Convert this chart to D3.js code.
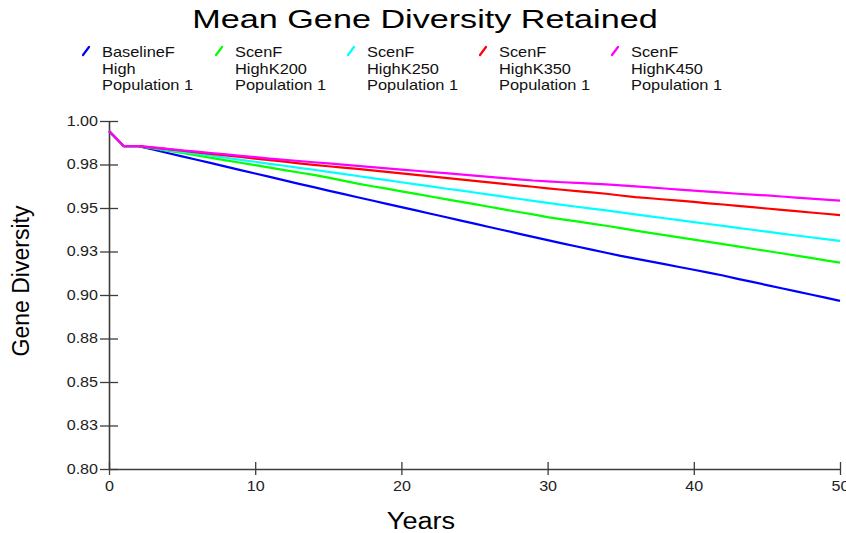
<!DOCTYPE html>
<html>
<head>
<meta charset="utf-8">
<script src="https://cdn.jsdelivr.net/npm/d3@7"></script>
<style>
  html, body { margin: 0; padding: 0; background: #fff; }
  svg { display: block; }
  text { font-family: "Liberation Sans", Arial, sans-serif; }
</style>
</head>
<body>
<svg id="chart" width="846" height="533"></svg>
<script>
// Simulation years 0..50
const years = d3.range(0, 51);

// Mean gene diversity per year for each scenario
const baselineHigh = [
  0.9943, 0.9856, 0.9856, 0.9836, 0.9816, 0.9797, 0.9777, 0.9758, 0.9738, 0.9718,
  0.9698, 0.9679, 0.9659, 0.9639, 0.9620, 0.9600, 0.9581, 0.9562, 0.9543, 0.9524,
  0.9505, 0.9486, 0.9467, 0.9448, 0.9429, 0.9410, 0.9391, 0.9372, 0.9353, 0.9334,
  0.9315, 0.9297, 0.9279, 0.9261, 0.9243, 0.9225, 0.9209, 0.9193, 0.9177, 0.9161,
  0.9145, 0.9129, 0.9112, 0.9093, 0.9075, 0.9057, 0.9039, 0.9021, 0.9003, 0.8985,
  0.8966
];
const highK200 = [
  0.9943, 0.9856, 0.9856, 0.9843, 0.9830, 0.9816, 0.9802, 0.9788, 0.9774, 0.9760,
  0.9746, 0.9732, 0.9718, 0.9704, 0.9690, 0.9675, 0.9657, 0.9640, 0.9625, 0.9611,
  0.9596, 0.9581, 0.9566, 0.9551, 0.9537, 0.9522, 0.9507, 0.9492, 0.9477, 0.9463,
  0.9448, 0.9435, 0.9423, 0.9410, 0.9398, 0.9384, 0.9370, 0.9357, 0.9344, 0.9331,
  0.9318, 0.9305, 0.9292, 0.9279, 0.9266, 0.9253, 0.9240, 0.9226, 0.9213, 0.9199,
  0.9186
];
const highK250 = [
  0.9943, 0.9856, 0.9856, 0.9845, 0.9834, 0.9823, 0.9812, 0.9801, 0.9789, 0.9777,
  0.9766, 0.9754, 0.9743, 0.9731, 0.9720, 0.9708, 0.9696, 0.9684, 0.9672, 0.9660,
  0.9648, 0.9636, 0.9624, 0.9612, 0.9601, 0.9589, 0.9577, 0.9565, 0.9553, 0.9541,
  0.9529, 0.9518, 0.9507, 0.9496, 0.9486, 0.9475, 0.9463, 0.9452, 0.9441, 0.9430,
  0.9419, 0.9408, 0.9397, 0.9386, 0.9375, 0.9364, 0.9353, 0.9342, 0.9332, 0.9321,
  0.9311
];
const highK350 = [
  0.9943, 0.9856, 0.9856, 0.9847, 0.9838, 0.9829, 0.9820, 0.9811, 0.9802, 0.9793,
  0.9784, 0.9775, 0.9766, 0.9757, 0.9748, 0.9740, 0.9732, 0.9725, 0.9716, 0.9708,
  0.9699, 0.9690, 0.9682, 0.9673, 0.9665, 0.9656, 0.9647, 0.9639, 0.9630, 0.9622,
  0.9613, 0.9605, 0.9597, 0.9590, 0.9582, 0.9572, 0.9563, 0.9556, 0.9549, 0.9542,
  0.9535, 0.9527, 0.9520, 0.9512, 0.9505, 0.9497, 0.9489, 0.9482, 0.9474, 0.9467,
  0.9459
];
const highK450 = [
  0.9943, 0.9856, 0.9856, 0.9848, 0.9840, 0.9832, 0.9824, 0.9816, 0.9808, 0.9800,
  0.9792, 0.9784, 0.9777, 0.9770, 0.9763, 0.9756, 0.9749, 0.9742, 0.9735, 0.9728,
  0.9721, 0.9714, 0.9707, 0.9700, 0.9693, 0.9686, 0.9679, 0.9672, 0.9665, 0.9658,
  0.9653, 0.9648, 0.9644, 0.9640, 0.9636, 0.9630, 0.9624, 0.9618, 0.9612, 0.9606,
  0.9600, 0.9594, 0.9588, 0.9582, 0.9577, 0.9572, 0.9566, 0.9560, 0.9554, 0.9548,
  0.9542
];

const seriesNames = [
  ["BaselineF", "High", "Population 1"],
  ["ScenF", "HighK200", "Population 1"],
  ["ScenF", "HighK250", "Population 1"],
  ["ScenF", "HighK350", "Population 1"],
  ["ScenF", "HighK450", "Population 1"]
];
const seriesValues = [baselineHigh, highK200, highK250, highK350, highK450];
const seriesColors = ["#0000ff", "#00ff00", "#00ffff", "#ff0000", "#ff00ff"];

const yTickValues = [0.80, 0.825, 0.85, 0.875, 0.90, 0.925, 0.95, 0.975, 1.00];
const yTickLabels = ["0.80", "0.83", "0.85", "0.88", "0.90", "0.93", "0.95", "0.98", "1.00"];
const xTickValues = [0, 10, 20, 30, 40, 50];

const svg = d3.select("#chart");
const axisColor = "#3c3c3c";

// Text in this chart is drawn horizontally widened
function widen(sel, factor) {
  sel.each(function () {
    const w = this.getComputedTextLength();
    d3.select(this).attr("textLength", w * factor).attr("lengthAdjust", "spacingAndGlyphs");
  });
}

const x = d3.scaleLinear().domain([0, 50]).range([109, 840]);
const y = d3.scaleLinear().domain([0.80, 1.00]).range([469, 121]);

// Title
svg.append("text")
  .attr("x", 425).attr("y", 28)
  .attr("text-anchor", "middle")
  .attr("font-size", 25.5)
  .attr("fill", "#000")
  .text("Mean Gene Diversity Retained")
  .call(widen, 1.34);

// Legend
const legendX = [102, 235, 367, 499, 631];
const legend = svg.append("g").attr("class", "legend");
seriesNames.forEach((lines, i) => {
  const g = legend.append("g").attr("transform", `translate(${legendX[i]},0)`);
  g.append("line")
    .attr("x1", -19).attr("y1", 55)
    .attr("x2", -13).attr("y2", 47)
    .attr("stroke", seriesColors[i])
    .attr("stroke-width", 2.2)
    .attr("stroke-linecap", "round");
  lines.forEach((t, j) => {
    g.append("text")
      .attr("x", 0).attr("y", 57 + j * 16.6)
      .attr("font-size", 14.5)
      .attr("fill", "#111")
      .text(t)
      .call(widen, 1.13);
  });
});

// Y axis
const yAxis = svg.append("g")
  .attr("transform", `translate(${x(0)},0)`)
  .call(d3.axisLeft(y)
    .tickValues(yTickValues)
    .tickFormat((d, i) => yTickLabels[i])
    .tickSize(9)
    .tickSizeOuter(0)
    .tickPadding(2));
yAxis.select(".domain").attr("stroke", axisColor).attr("stroke-width", 1.6);
yAxis.selectAll(".tick line").attr("x1", -9).attr("x2", 9)
  .attr("stroke", axisColor).attr("stroke-width", 1.3);
yAxis.selectAll(".tick text")
  .attr("font-size", 14).attr("fill", "#222")
  .attr("font-family", "'Liberation Sans', Arial, sans-serif")
  .call(widen, 1.15);

// X axis
const xAxis = svg.append("g")
  .attr("transform", `translate(0,${y(0.80)})`)
  .call(d3.axisBottom(x)
    .tickValues(xTickValues)
    .tickFormat(d3.format("d"))
    .tickSize(6)
    .tickSizeOuter(0)
    .tickPadding(6));
xAxis.select(".domain").attr("stroke", axisColor).attr("stroke-width", 1.6);
xAxis.selectAll(".tick line").attr("y1", -7).attr("y2", 6)
  .attr("stroke", axisColor).attr("stroke-width", 1.3);
xAxis.selectAll(".tick text")
  .attr("font-size", 14).attr("fill", "#222")
  .attr("font-family", "'Liberation Sans', Arial, sans-serif")
  .call(widen, 1.15);

// Axis titles
svg.append("text")
  .attr("x", 421).attr("y", 529)
  .attr("text-anchor", "middle")
  .attr("font-size", 23)
  .attr("fill", "#000")
  .text("Years")
  .call(widen, 1.18);

svg.append("text")
  .attr("transform", "translate(29,281) rotate(-90)")
  .attr("text-anchor", "middle")
  .attr("font-size", 23)
  .attr("fill", "#000")
  .text("Gene Diversity");

// Lines
const line = d3.line()
  .x((d, i) => x(years[i]))
  .y(d => y(d));

svg.append("g").attr("class", "series")
  .selectAll("path")
  .data(seriesValues)
  .join("path")
  .attr("d", line)
  .attr("fill", "none")
  .attr("stroke", (d, i) => seriesColors[i])
  .attr("stroke-width", 2.2)
  .attr("stroke-linejoin", "round");
</script>
</body>
</html>
